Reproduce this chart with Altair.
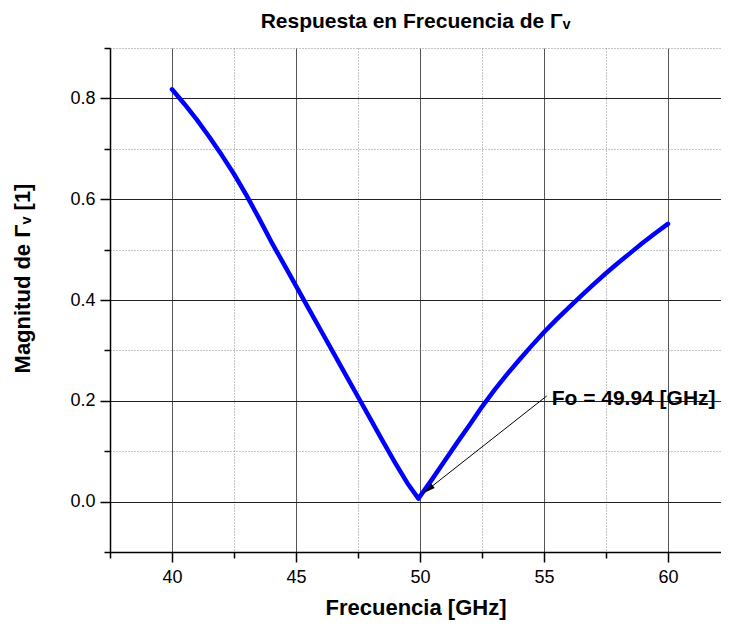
import altair as alt
import pandas as pd

# Curve (frequency in GHz, |Gamma_v|)
freq = [40.0, 40.5, 41.0, 41.5, 42.0, 42.5, 43.0, 43.5, 44.0, 44.5, 45.0, 45.5,
        46.0, 46.5, 47.0, 47.5, 48.0, 48.5, 49.0, 49.5, 49.94,
        50.5, 51.0, 51.5, 52.0, 52.5, 53.0, 53.5, 54.0, 54.5, 55.0, 55.5,
        56.0, 56.5, 57.0, 57.5, 58.0, 58.5, 59.0, 59.5, 60.0]
mag = [0.818, 0.789, 0.758, 0.724, 0.688, 0.650, 0.608, 0.563, 0.516, 0.472, 0.428, 0.384,
       0.340, 0.296, 0.252, 0.208, 0.164, 0.120, 0.077, 0.036, 0.006,
       0.045, 0.081, 0.117, 0.152, 0.188, 0.221, 0.252, 0.281, 0.309, 0.336, 0.361,
       0.385, 0.408, 0.431, 0.453, 0.474, 0.494, 0.514, 0.533, 0.551]

# Axis ticks (major + minor) and visible extent
x_ticks = [37.5, 40, 42.5, 45, 47.5, 50, 52.5, 55, 57.5, 60]
y_ticks = [-0.1, 0.0, 0.1, 0.2, 0.3, 0.4, 0.5, 0.6, 0.7, 0.8, 0.9]
x_extent = [37.5, 62.14]
y_extent = [-0.1, 0.9]

# Annotation
ann_label = ["Fo = 49.94 [GHz]"]
ann_text_x = [55.31]
ann_text_y = [0.204]
arrow_x = [55.11, 50.14]
arrow_y = [0.2095, 0.017]
head_x = [50.33]
head_y = [0.024]

FONT = "Liberation Sans"

df = pd.DataFrame({"f": freq, "m": mag})
df_arrow = pd.DataFrame({"f": arrow_x, "m": arrow_y})
df_head = pd.DataFrame({"f": head_x, "m": head_y})
df_text = pd.DataFrame({"f": ann_text_x, "m": ann_text_y, "t": ann_label})

x_major = "datum.value % 5 === 0"
y_major = "abs(round(datum.value * 10)) % 2 === 0"

xaxis = alt.Axis(
    values=x_ticks,
    title="Frecuencia [GHz]",
    labelExpr=f"{x_major} ? datum.label : ''",
    labelOverlap=False,
    labelFlush=False,
    grid=True,
    gridDash={"condition": {"test": x_major, "value": []}, "value": [1, 2]},
    gridColor={"condition": {"test": x_major, "value": "#555555"}, "value": "#888888"},
    gridWidth=1,
    tickSize={"condition": {"test": x_major, "value": 10}, "value": 6},
    labelPadding=6,
    titlePadding=11,
)
yaxis = alt.Axis(
    values=y_ticks,
    title="Magnitud de Γᵥ [1]",
    labelExpr=f"{y_major} ? format(datum.value, '.1f') : ''",
    labelOverlap=False,
    labelFlush=False,
    grid=True,
    gridDash={"condition": {"test": y_major, "value": []}, "value": [1, 2]},
    gridColor={"condition": {"test": y_major, "value": "#222222"}, "value": "#888888"},
    gridWidth=1,
    tickSize={"condition": {"test": y_major, "value": 10}, "value": 6},
    labelPadding=5,
    titlePadding=35,
    titleY=230,
)

xs = alt.Scale(domain=x_extent, nice=False, zero=False)
ys = alt.Scale(domain=y_extent, nice=False, zero=False)

line = alt.Chart(df).mark_line(
    color="#0000FF", strokeWidth=4.5, strokeJoin="round", strokeCap="round"
).encode(
    x=alt.X("f:Q", scale=xs, axis=xaxis),
    y=alt.Y("m:Q", scale=ys, axis=yaxis),
)

arrow = alt.Chart(df_arrow).mark_line(color="black", strokeWidth=1).encode(
    x="f:Q", y="m:Q"
)

head = alt.Chart(df_head).mark_point(
    shape="M0,-1L0.45,1L-0.45,1Z", filled=True, color="black", opacity=1,
    size=150, angle=232
).encode(x="f:Q", y="m:Q")

text = alt.Chart(df_text).mark_text(
    align="left", baseline="middle", font=FONT, fontSize=21, fontWeight="bold",
    color="black"
).encode(x="f:Q", y="m:Q", text="t:N")

chart = alt.layer(line, arrow, head, text).properties(
    width=611,
    height=504,
    padding={"left": 102, "top": 40, "right": 0, "bottom": 68},
    autosize=alt.AutoSizeParams(type="none"),
    title=alt.Title(
        "Respuesta en Frecuencia de Γᵥ",
        font=FONT, fontSize=21, fontWeight="bold", color="black",
        anchor="middle", frame="group", offset=7,
    ),
).configure_view(stroke=None).configure_axis(
    domainColor="black", domainWidth=1.5,
    tickColor="black", tickWidth=1.5,
    labelFont=FONT, labelFontSize=18, labelColor="black",
    titleFont=FONT, titleFontSize=22, titleFontWeight="bold", titleColor="black",
)

chart.save("out.html", embed_options={"renderer": "svg", "actions": False})
